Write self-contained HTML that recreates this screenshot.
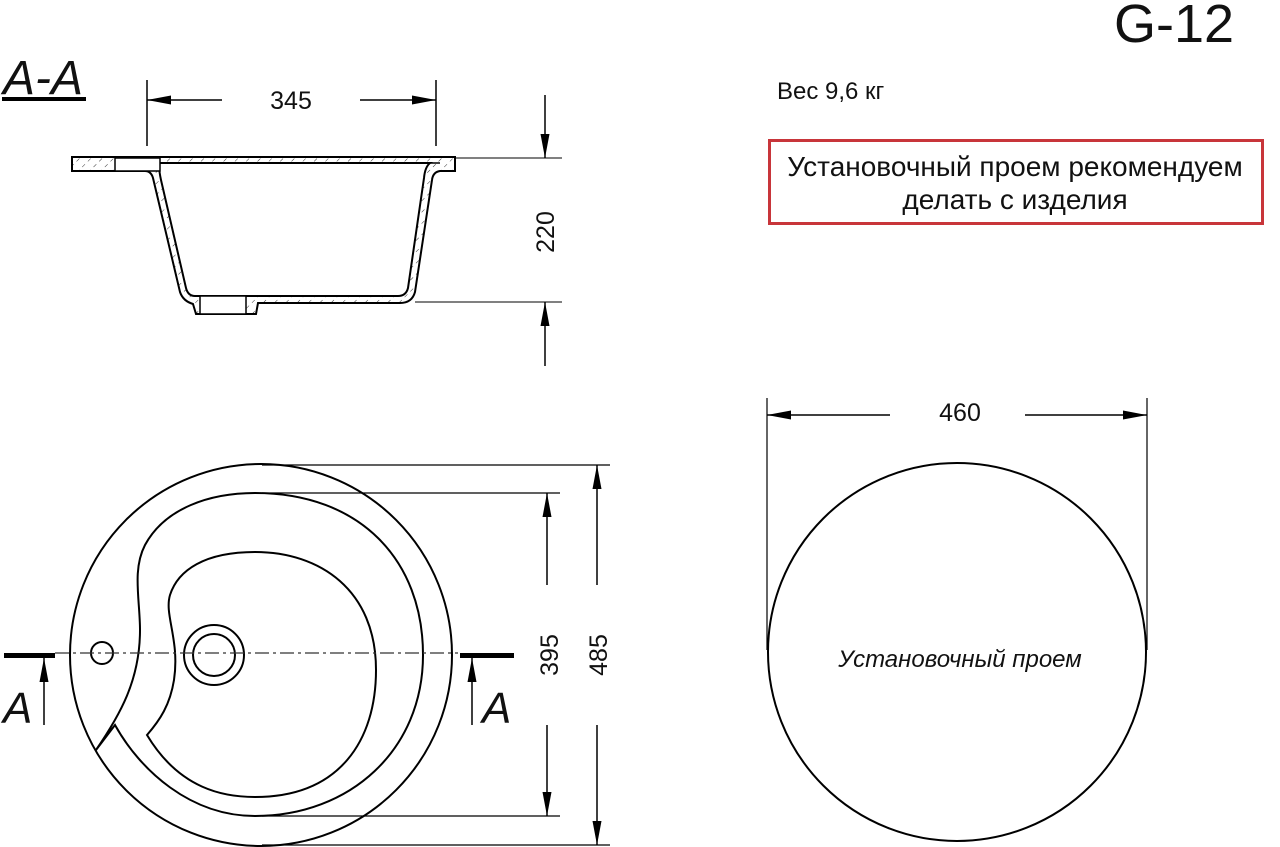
<!DOCTYPE html>
<html><head><meta charset="utf-8"><style>
html,body{margin:0;padding:0;background:#fff;}
svg{display:block;}
text{font-family:"Liberation Sans",sans-serif;fill:#111;}
</style></head><body>
<svg width="1280" height="847" viewBox="0 0 1280 847" xmlns="http://www.w3.org/2000/svg">
<defs>
<marker id="ar" viewBox="0 0 24 10" refX="24" refY="5" markerWidth="24" markerHeight="10" markerUnits="userSpaceOnUse" orient="auto"><path d="M0,0.5 L24,5 L0,9.5 Z" fill="#000"/></marker>
<pattern id="hat" width="8" height="8" patternUnits="userSpaceOnUse" patternTransform="rotate(45)"><line x1="0" y1="0" x2="0" y2="4" stroke="#333" stroke-width="1"/></pattern>
</defs>
<!-- Titles -->
<text x="1114" y="42" font-size="54">G-12</text>
<text x="3" y="94" font-size="48" font-style="italic">A-A</text>
<rect x="2" y="97" width="84" height="4" fill="#000"/>
<text x="777" y="99" font-size="24">Вес 9,6 кг</text>
<rect x="769.5" y="140.5" width="493" height="83" fill="none" stroke="#c8353a" stroke-width="3"/>
<text x="1015" y="176" font-size="28" text-anchor="middle">Установочный проем рекомендуем</text>
<text x="1015" y="209" font-size="28" text-anchor="middle">делать с изделия</text>

<!-- Section view -->
<g stroke="#000" stroke-width="1.5" fill="none">
<line x1="147" y1="80" x2="147" y2="146"/>
<line x1="436" y1="80" x2="436" y2="146"/>
<line x1="222" y1="100" x2="147" y2="100" marker-end="url(#ar)"/>
<line x1="360" y1="100" x2="436" y2="100" marker-end="url(#ar)"/>
<line x1="456" y1="158" x2="562" y2="158" stroke-width="1"/>
<line x1="415" y1="302" x2="562" y2="302" stroke-width="1"/>
<line x1="545" y1="95" x2="545" y2="158" marker-end="url(#ar)"/>
<line x1="545" y1="366" x2="545" y2="302" marker-end="url(#ar)"/>
</g>
<text x="291" y="109" font-size="25" text-anchor="middle">345</text>
<text transform="translate(554,232) rotate(-90)" font-size="25" text-anchor="middle">220</text>
<g stroke="#000" stroke-width="2">
<path fill-rule="evenodd" fill="url(#hat)" d="M72,157 H455 V171 H440 Q433,172 432,180 L415,292 Q412,303 400,303 H258 L256,314 H196 L193,304 Q183,301 180,292 L153,178 Q151,171 145,171 H72 Z M160,163 H430 Q425,167 424,178 L408,288 Q406,296 398,296 H195 Q188,296 186,288 L161,180 Q158,166 160,163 Z"/>
<rect x="115" y="158" width="45" height="13" fill="#fff" stroke-width="1.5"/>
<rect x="200" y="296" width="46" height="18" fill="#fff" stroke-width="1.5"/>
<line x1="160" y1="163" x2="440" y2="163" stroke-width="1.5"/>
</g>

<!-- Top view -->
<g stroke="#000" stroke-width="2" fill="none">
<circle cx="261" cy="655" r="191"/>
<path d="M96,750 C120,715 140,680 140,630 C140,600 132,570 145,545 C165,508 210,493 255,493 C360,493 423,560 423,655 C423,750 350,816 255,816 C190,816 140,770 115,725 L96,750"/>
<path d="M147,735 C180,790 225,797 255,797 C340,797 376,740 376,670 C376,590 320,552 255,552 C205,552 178,570 170,595 C164,615 180,640 174,680 C170,705 160,720 147,735 Z"/>
<circle cx="214" cy="655" r="30"/>
<circle cx="214" cy="655" r="21"/>
<circle cx="102" cy="653" r="11"/>
</g>
<line x1="55" y1="653" x2="458" y2="653" stroke="#333" stroke-width="1.2" stroke-dasharray="14,4,3,4"/>
<g stroke="#000" stroke-width="1.2" fill="none">
<line x1="262" y1="465" x2="610" y2="465"/>
<line x1="262" y1="493" x2="560" y2="493"/>
<line x1="262" y1="816" x2="560" y2="816"/>
<line x1="262" y1="845" x2="610" y2="845"/>
</g>
<g stroke="#000" stroke-width="1.5">
<line x1="547" y1="585" x2="547" y2="493" marker-end="url(#ar)"/>
<line x1="547" y1="725" x2="547" y2="816" marker-end="url(#ar)"/>
<line x1="597" y1="585" x2="597" y2="465" marker-end="url(#ar)"/>
<line x1="597" y1="725" x2="597" y2="845" marker-end="url(#ar)"/>
</g>
<text transform="translate(558,655) rotate(-90)" font-size="25" text-anchor="middle">395</text>
<text transform="translate(607,655) rotate(-90)" font-size="25" text-anchor="middle">485</text>
<!-- Section markers -->
<rect x="4" y="653" width="51" height="5" fill="#000"/>
<line x1="44" y1="725" x2="44" y2="658" stroke="#000" stroke-width="1.5" marker-end="url(#ar)"/>
<text x="3" y="723" font-size="44" font-style="italic">A</text>
<rect x="460" y="653" width="54" height="5" fill="#000"/>
<line x1="472" y1="725" x2="472" y2="658" stroke="#000" stroke-width="1.5" marker-end="url(#ar)"/>
<text x="482" y="723" font-size="44" font-style="italic">A</text>

<!-- Cutout -->
<g stroke="#000" stroke-width="1.2" fill="none">
<line x1="767" y1="398" x2="767" y2="650"/>
<line x1="1147" y1="398" x2="1147" y2="650"/>
</g>
<g stroke="#000" stroke-width="1.5">
<line x1="890" y1="415" x2="767" y2="415" marker-end="url(#ar)"/>
<line x1="1025" y1="415" x2="1147" y2="415" marker-end="url(#ar)"/>
</g>
<text x="960" y="421" font-size="25" text-anchor="middle">460</text>
<circle cx="957" cy="652" r="189" fill="none" stroke="#000" stroke-width="2"/>
<text x="960" y="667" font-size="24" font-style="italic" text-anchor="middle">Установочный проем</text>
</svg>
</body></html>
